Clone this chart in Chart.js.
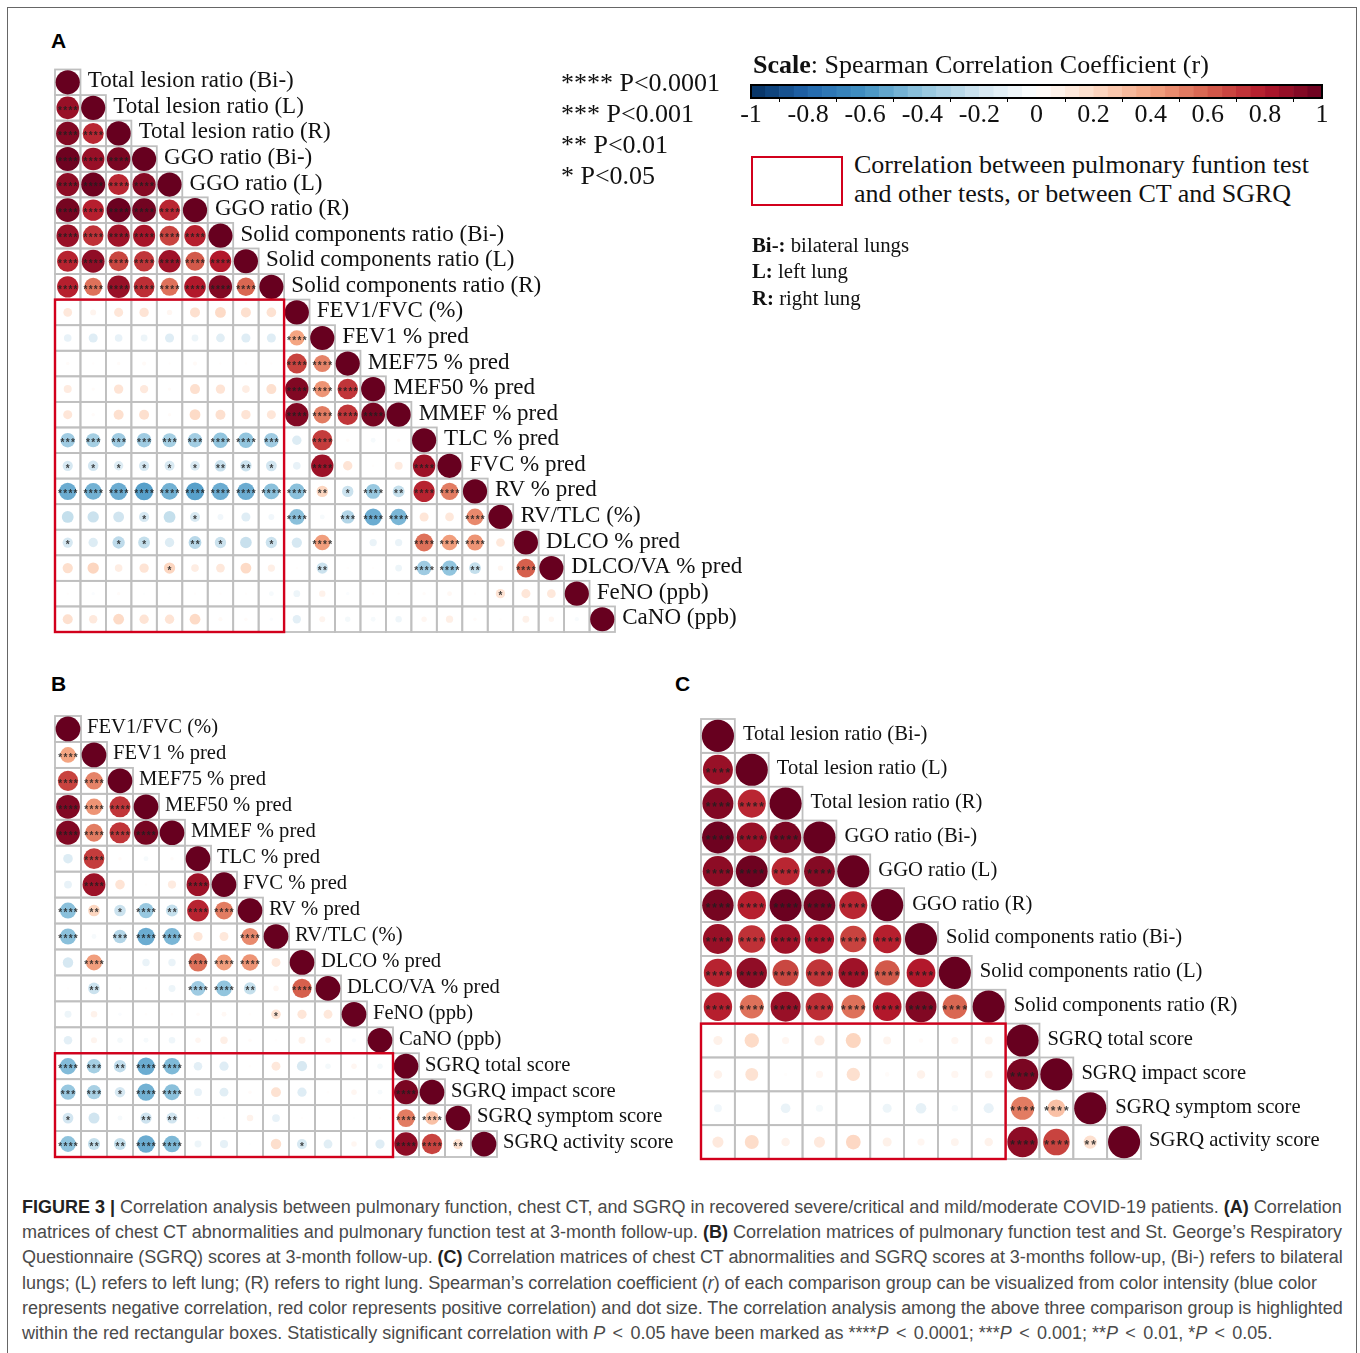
<!DOCTYPE html>
<html>
<head>
<meta charset="utf-8">
<title>Figure 3</title>
<script src="https://cdn.jsdelivr.net/npm/chart.js@4/dist/chart.umd.min.js"></script>
<style>
html, body { margin: 0; padding: 0; background: #fff; }
body { position: relative; width: 1360px; height: 1353px; overflow: hidden; }
canvas { position: absolute; }
#frame { position: absolute; left: 7px; top: 7px; width: 1348px; height: 1400px; border: 1.5px solid #666; }
.t { position: absolute; white-space: nowrap; line-height: 1; color: #111; font-family: "Liberation Serif", serif; }
.panel { font-family: "Liberation Sans", sans-serif; font-weight: bold; font-size: 21px; color: #000; }
.cap { font-family: "Liberation Sans", sans-serif; font-size: 18px; color: #4a4a4a; }
.cap b { color: #222; }
.lt { margin: 0 2.3px; }
#redkey { position: absolute; left: 751px; top: 156px; width: 88px; height: 46px; border: 2.5px solid #d2001c; }
</style>
</head>
<body>
<div id="frame"></div>
<script>
// labels
const ctLabels = ["Total lesion ratio (Bi-)", "Total lesion ratio (L)", "Total lesion ratio (R)", "GGO ratio (Bi-)", "GGO ratio (L)", "GGO ratio (R)", "Solid components ratio (Bi-)", "Solid components ratio (L)", "Solid components ratio (R)"];
const pftLabels = ["FEV1/FVC (%)", "FEV1 % pred", "MEF75 % pred", "MEF50 % pred", "MMEF % pred", "TLC % pred", "FVC % pred", "RV % pred", "RV/TLC (%)", "DLCO % pred", "DLCO/VA % pred", "FeNO (ppb)", "CaNO (ppb)"];
const sgrqLabels = ["SGRQ total score", "SGRQ impact score", "SGRQ symptom score", "SGRQ activity score"];

// correlation coefficients, lower triangles and cross blocks
const ctRows = [
	[1],
	[.87, 1],
	[.93, .76, 1],
	[.98, .87, .95, 1],
	[.90, .98, .76, .92, 1],
	[.96, .78, .99, .97, .76, 1],
	[.87, .73, .85, .83, .68, .78, 1],
	[.77, .89, .67, .72, .85, .62, .80, 1],
	[.78, .55, .87, .74, .55, .80, .93, .58, 1]
];
const ctPftRows = [
	[.13, .06, .14, .15, .05, .17, .20, .17, .16],
	[-.10, -.14, -.10, -.08, -.14, -.08, -.13, -.14, -.14],
	[.02, .01, .02, .03, .01, .03, .01, .01, .01],
	[.11, .02, .15, .12, .02, .17, .15, .10, .17],
	[.14, .02, .17, .17, .02, .20, .17, .15, .14],
	[-.36, -.34, -.36, -.36, -.34, -.35, -.40, -.40, -.36],
	[-.18, -.19, -.15, -.18, -.17, -.16, -.23, -.22, -.20],
	[-.50, -.48, -.50, -.55, -.48, -.55, -.50, -.50, -.42],
	[-.24, -.22, -.20, -.18, -.24, -.17, -.06, -.14, -.06],
	[-.18, -.15, -.26, -.24, -.15, -.28, -.22, -.23, -.22],
	[.18, .22, .10, .15, .22, .10, .13, .20, .09],
	[.01, -.02, .02, -.01, -.01, .01, .01, .01, -.04],
	[.17, .12, .20, .15, .15, .20, .03, .02, -.02]
];
const pftRows = [
	[1],
	[.40, 1],
	[.68, .50, 1],
	[.93, .45, .72, 1],
	[.93, .52, .72, .96, 1],
	[-.15, .70, .02, -.04, .02, 1],
	[-.10, .86, .15, .01, .11, .86, 1],
	[-.42, .22, -.22, -.38, -.24, .77, .52, 1],
	[-.42, -.04, -.30, -.50, -.46, .14, .13, .48, 1],
	[-.18, .42, .00, -.09, -.09, .55, .42, .45, .13, 1],
	[.01, -.22, .01, .01, -.08, -.36, -.40, -.24, .05, .60, 1],
	[-.08, .07, -.02, .01, .01, .02, .04, .01, .15, .14, .13, 1],
	[-.12, .06, -.05, -.04, -.07, .05, .09, .02, .01, .08, .05, -.03, 1]
];
const pftSgrqRows = [
	[-.44, -.34, -.25, -.50, -.45, -.12, -.14, .01, .13, -.17, -.05, .05, -.05],
	[-.38, -.33, -.18, -.48, -.42, -.10, -.13, .02, .16, -.14, .01, .05, -.04],
	[-.19, -.20, -.04, -.21, -.20, .01, -.01, .07, -.10, .01, .00, -.01, .01],
	[-.41, -.24, -.24, -.50, -.45, -.08, -.11, -.01, .18, -.17, -.13, .05, -.14]
];
const ctSgrqRows = [
	[.08, .20, .05, .10, .22, .06, .02, .05, .06],
	[.07, .16, .01, .05, .17, .02, .07, .05, .06],
	[-.06, .00, -.09, -.05, .00, -.08, -.11, -.04, -.10],
	[.12, .19, .07, .12, .21, .08, .05, .06, .07]
];
const sgrqRows = [
	[1],
	[.95, 1],
	[.52, .30, 1],
	[.90, .68, .17, 1]
];

// number of significance stars per cell
const ctStars = [
	[0],
	[4, 0],
	[4, 4, 0],
	[4, 4, 4, 0],
	[4, 4, 4, 4, 0],
	[4, 4, 4, 4, 4, 0],
	[4, 4, 4, 4, 4, 4, 0],
	[4, 4, 4, 4, 4, 4, 4, 0],
	[4, 4, 4, 4, 4, 4, 4, 4, 0]
];
const ctPftStars = [
	[0, 0, 0, 0, 0, 0, 0, 0, 0],
	[0, 0, 0, 0, 0, 0, 0, 0, 0],
	[0, 0, 0, 0, 0, 0, 0, 0, 0],
	[0, 0, 0, 0, 0, 0, 0, 0, 0],
	[0, 0, 0, 0, 0, 0, 0, 0, 0],
	[3, 3, 3, 3, 3, 3, 4, 4, 3],
	[1, 1, 1, 1, 1, 1, 2, 2, 1],
	[4, 4, 4, 4, 4, 4, 4, 4, 4],
	[0, 0, 0, 1, 0, 1, 0, 0, 0],
	[1, 0, 1, 1, 0, 2, 1, 0, 1],
	[0, 0, 0, 0, 1, 0, 0, 0, 0],
	[0, 0, 0, 0, 0, 0, 0, 0, 0],
	[0, 0, 0, 0, 0, 0, 0, 0, 0]
];
const pftStars = [
	[0],
	[4, 0],
	[4, 4, 0],
	[4, 4, 4, 0],
	[4, 4, 4, 4, 0],
	[0, 4, 0, 0, 0, 0],
	[0, 4, 0, 0, 0, 4, 0],
	[4, 2, 1, 4, 2, 4, 4, 0],
	[4, 0, 3, 4, 4, 0, 0, 4, 0],
	[0, 4, 0, 0, 0, 4, 4, 4, 0, 0],
	[0, 2, 0, 0, 0, 4, 4, 2, 0, 4, 0],
	[0, 0, 0, 0, 0, 0, 0, 0, 1, 0, 0, 0],
	[0, 0, 0, 0, 0, 0, 0, 0, 0, 0, 0, 0, 0]
];
const pftSgrqStars = [
	[4, 3, 2, 4, 4, 0, 0, 0, 0, 0, 0, 0, 0],
	[3, 3, 1, 4, 4, 0, 0, 0, 0, 0, 0, 0, 0],
	[1, 0, 0, 2, 2, 0, 0, 0, 0, 0, 0, 0, 0],
	[4, 2, 2, 4, 4, 0, 0, 0, 0, 1, 0, 0, 0]
];
const ctSgrqStars = [
	[0, 0, 0, 0, 0, 0, 0, 0, 0],
	[0, 0, 0, 0, 0, 0, 0, 0, 0],
	[0, 0, 0, 0, 0, 0, 0, 0, 0],
	[0, 0, 0, 0, 0, 0, 0, 0, 0]
];
const sgrqStars = [
	[0],
	[4, 0],
	[4, 4, 0],
	[4, 4, 2, 0]
];

// colour bar
const colorbarBins = [
	-.975, -.925, -.875, -.825, -.775, -.725, -.675, -.625, -.575, -.525,
	-.475, -.425, -.375, -.325, -.275, -.225, -.175, -.125, -.075, -.025,
	.025, .075, .125, .175, .225, .275, .325, .375, .425, .475,
	.525, .575, .625, .675, .725, .775, .825, .875, .925, .975
];
const colorbarTicks = [-1, -.8, -.6, -.4, -.2, 0, .2, .4, .6, .8, 1];
const rdbu = ["#053061", "#2166AC", "#4393C3", "#92C5DE", "#D1E5F0", "#FFFFFF", "#FDDBC7", "#F4A582", "#D6604D", "#B2182B", "#67001F"];

function hexToRgb(hex) {
	return [1, 3, 5].map(i => parseInt(hex.substr(i, 2), 16));
}
function colorFor(v) {
	let pos = (v + 1) * 5;
	let i = Math.min(Math.floor(pos), 9);
	let a = hexToRgb(rdbu[i]), b = hexToRgb(rdbu[i + 1]);
	let f = pos - i;
	return "rgb(" + a.map((c, k) => Math.round(c + (b[k] - c) * f)).join(",") + ")";
}

const panelPlugin = {
	id: "panel",
	beforeDatasetsDraw(chart, args, opts) {
		let { ctx, scales: { x, y } } = chart;
		ctx.save();
		ctx.strokeStyle = "#bfbfbf";
		ctx.lineWidth = 1.8;
		opts.labels.forEach((label, row) => {
			let top = y.getPixelForValue(row - .5), h = y.getPixelForValue(row + .5) - top;
			for (let col = 0; col <= row; col++) {
				let left = x.getPixelForValue(col - .5), w = x.getPixelForValue(col + .5) - left;
				ctx.strokeRect(left, top, w, h);
			}
		});
		ctx.restore();
	},
	afterDatasetsDraw(chart, args, opts) {
		let { ctx, scales: { x, y } } = chart;
		ctx.save();
		// significance stars
		ctx.fillStyle = "rgba(30,30,30,.85)";
		ctx.font = 'bold ' + opts.starSize + 'px "Liberation Sans"';
		ctx.textAlign = "center";
		ctx.textBaseline = "alphabetic";
		chart.data.datasets[0].data.forEach(p => {
			let cx = x.getPixelForValue(p.x), cy = y.getPixelForValue(p.y);
			for (let s = 0; s < p.stars; s++) {
				ctx.fillText("*", cx + (s - (p.stars - 1) / 2) * opts.starGap, cy + opts.starSize * .58);
			}
		});
		// red box
		let b = opts.box;
		ctx.strokeStyle = "#d2001c";
		ctx.lineWidth = 2.4;
		let left = x.getPixelForValue(b.col0 - .5), right = x.getPixelForValue(b.col1 + .5);
		let top = y.getPixelForValue(b.row0 - .5), bottom = y.getPixelForValue(b.row1 + .5);
		ctx.strokeRect(left, top, right - left, bottom - top);
		// variable names next to the diagonal
		ctx.fillStyle = "#111";
		ctx.font = opts.font;
		ctx.textAlign = "left";
		ctx.textBaseline = "middle";
		opts.labels.forEach((label, i) => {
			ctx.fillText(label, x.getPixelForValue(i) + opts.labelGap, y.getPixelForValue(i) - 1);
		});
		ctx.restore();
	}
};

function toPoints(rows, stars) {
	let points = [];
	rows.forEach((row, r) => row.forEach((v, c) => {
		points.push({ x: c, y: r, v: v, stars: stars[r][c] });
	}));
	return points;
}

function addCanvas(left, top, width, height) {
	let canvas = document.createElement("canvas");
	canvas.width = width;
	canvas.height = height;
	canvas.style.left = left + "px";
	canvas.style.top = top + "px";
	document.body.appendChild(canvas);
	return canvas;
}

function matrixChart(box, area, labels, rows, stars, panelOptions) {
	let canvas = addCanvas(box.left, box.top, box.width, box.height);
	let n = labels.length;
	let cell = (area.right - area.left) / n;
	return new Chart(canvas, {
		type: "scatter",
		data: {
			datasets: [{
				data: toPoints(rows, stars),
				clip: false,
				pointBorderWidth: 0,
				pointHoverRadius: 0,
				pointBackgroundColor: c => c.raw ? colorFor(c.raw.v) : "#fff",
				pointRadius: c => c.raw ? .475 * cell * Math.sqrt(Math.abs(c.raw.v)) : 0
			}]
		},
		options: {
			responsive: false,
			animation: false,
			events: [],
			layout: {
				autoPadding: false,
				padding: {
					left: area.left - box.left,
					top: area.top - box.top,
					right: box.left + box.width - area.right,
					bottom: box.top + box.height - area.bottom
				}
			},
			scales: {
				x: { type: "linear", display: false, min: -.5, max: n - .5 },
				y: { type: "linear", display: false, min: -.5, max: n - .5, reverse: true }
			},
			plugins: {
				legend: { display: false },
				tooltip: { enabled: false },
				panel: Object.assign({ labels: labels }, panelOptions)
			}
		},
		plugins: [panelPlugin]
	});
}

// panel A
matrixChart({ left: 30, top: 60, width: 730, height: 590 }, { left: 55, top: 69.5, right: 615, bottom: 632 },
	ctLabels.concat(pftLabels), ctRows.concat(ctPftRows.map((r, i) => r.concat(pftRows[i]))),
	ctStars.concat(ctPftStars.map((r, i) => r.concat(pftStars[i]))),
	{ box: { col0: 0, col1: 8, row0: 9, row1: 21 }, font: '23px "Liberation Serif"', labelGap: 20, starSize: 10, starGap: 5.2 });

// panel B
matrixChart({ left: 30, top: 705, width: 660, height: 465 }, { left: 55, top: 716, right: 497, bottom: 1157 },
	pftLabels.concat(sgrqLabels), pftRows.concat(pftSgrqRows.map((r, i) => r.concat(sgrqRows[i]))),
	pftStars.concat(pftSgrqStars.map((r, i) => r.concat(sgrqStars[i]))),
	{ box: { col0: 0, col1: 12, row0: 13, row1: 16 }, font: '20.6px "Liberation Serif"', labelGap: 19, starSize: 10, starGap: 5.2 });

// panel C
matrixChart({ left: 690, top: 705, width: 650, height: 465 }, { left: 701, top: 719, right: 1141, bottom: 1159 },
	ctLabels.concat(sgrqLabels), ctRows.concat(ctSgrqRows.map((r, i) => r.concat(sgrqRows[i]))),
	ctStars.concat(ctSgrqStars.map((r, i) => r.concat(sgrqStars[i]))),
	{ box: { col0: 0, col1: 8, row0: 9, row1: 12 }, font: '20.6px "Liberation Serif"', labelGap: 25, starSize: 12, starGap: 6.6 });

// colour bar
new Chart(addCanvas(735, 75, 610, 60), {
	type: "bar",
	data: {
		labels: colorbarBins,
		datasets: [{
			data: colorbarBins.map(b => ({ x: b, y: 1 })),
			backgroundColor: colorbarBins.map(colorFor),
			borderColor: colorbarBins.map(colorFor),
			borderWidth: 0.5,
			barPercentage: 1,
			categoryPercentage: 1
		}]
	},
	options: {
		responsive: false,
		animation: false,
		events: [],
		layout: { padding: { left: 16, right: 23, top: 10, bottom: 0 } },
		scales: {
			x: {
				type: "linear",
				min: -1,
				max: 1,
				offset: false,
				afterFit: s => { s.height = 37; },
				afterBuildTicks: s => { s.ticks = colorbarTicks.map(v => ({ value: v })); },
				grid: { drawOnChartArea: false, color: "#000", tickLength: 4, tickWidth: 1 },
				border: { display: false },
				ticks: {
					color: "#111",
					maxRotation: 0,
					autoSkip: false,
					padding: -2,
					font: { family: "Liberation Serif", size: 26 },
					callback: v => String(Math.round(v * 10) / 10)
				}
			},
			y: { display: false, min: 0, max: 1 }
		},
		plugins: { legend: { display: false }, tooltip: { enabled: false } }
	},
	plugins: [{
		id: "barFrame",
		afterDatasetsDraw(chart) {
			let { ctx, chartArea: a } = chart;
			ctx.save();
			ctx.strokeStyle = "#000";
			ctx.lineWidth = 2;
			ctx.strokeRect(a.left, a.top, a.width, a.height);
			ctx.restore();
		}
	}]
});

// static text
const lt = '<span class="lt">&lt;</span>';
const textItems = [
	["panel", 51, 30, "A"], ["panel", 51, 673, "B"], ["panel", 675, 673, "C"],
	["", 753, 52, "<b>Scale</b>: Spearman Correlation Coefficient (r)", 26],
	["", 561, 70, "**** P&lt;0.0001", 26],
	["", 561, 101, "*** P&lt;0.001", 26],
	["", 561, 132, "** P&lt;0.01", 26],
	["", 561, 163, "* P&lt;0.05", 26],
	["", 854, 152, "Correlation between pulmonary funtion test", 26],
	["", 854, 181, "and other tests, or between CT and SGRQ", 26],
	["", 752, 235, "<b>Bi-:</b> bilateral lungs", 20.8],
	["", 752, 261, "<b>L:</b> left lung", 20.8],
	["", 752, 288, "<b>R:</b> right lung", 20.8],
	["cap", 22, 1198, "<b>FIGURE 3 |</b> Correlation analysis between pulmonary function, chest CT, and SGRQ in recovered severe/critical and mild/moderate COVID-19 patients. <b>(A)</b> Correlation", 0, -.012],
	["cap", 22, 1223, "matrices of chest CT abnormalities and pulmonary function test at 3-month follow-up. <b>(B)</b> Correlation matrices of pulmonary function test and St. George’s Respiratory"],
	["cap", 22, 1248, "Questionnaire (SGRQ) scores at 3-month follow-up. <b>(C)</b> Correlation matrices of chest CT abnormalities and SGRQ scores at 3-months follow-up, (Bi-) refers to bilateral", 0, -.052],
	["cap", 22, 1274, "lungs; (L) refers to left lung; (R) refers to right lung. Spearman’s correlation coefficient (<i>r</i>) of each comparison group can be visualized from color intensity (blue color", 0, -.052],
	["cap", 22, 1299, "represents negative correlation, red color represents positive correlation) and dot size. The correlation analysis among the above three comparison group is highlighted", 0, -.052],
	["cap", 22, 1324, "within the red rectangular boxes. Statistically significant correlation with <i>P</i> " + lt + " 0.05 have been marked as ****<i>P</i> " + lt + " 0.0001; ***<i>P</i> " + lt + " 0.001; **<i>P</i> " + lt + " 0.01, *<i>P</i> " + lt + " 0.05."]
];
textItems.forEach(([cls, left, top, html, size, spacing]) => {
	let el = document.createElement("div");
	el.className = "t " + cls;
	el.style.left = left + "px";
	el.style.top = top + "px";
	if (size) {
		el.style.fontSize = size + "px";
	}
	if (spacing) {
		el.style.letterSpacing = spacing + "px";
	}
	el.innerHTML = html;
	document.body.appendChild(el);
});

let key = document.createElement("div");
key.id = "redkey";
document.body.appendChild(key);
</script>
</body>
</html>
